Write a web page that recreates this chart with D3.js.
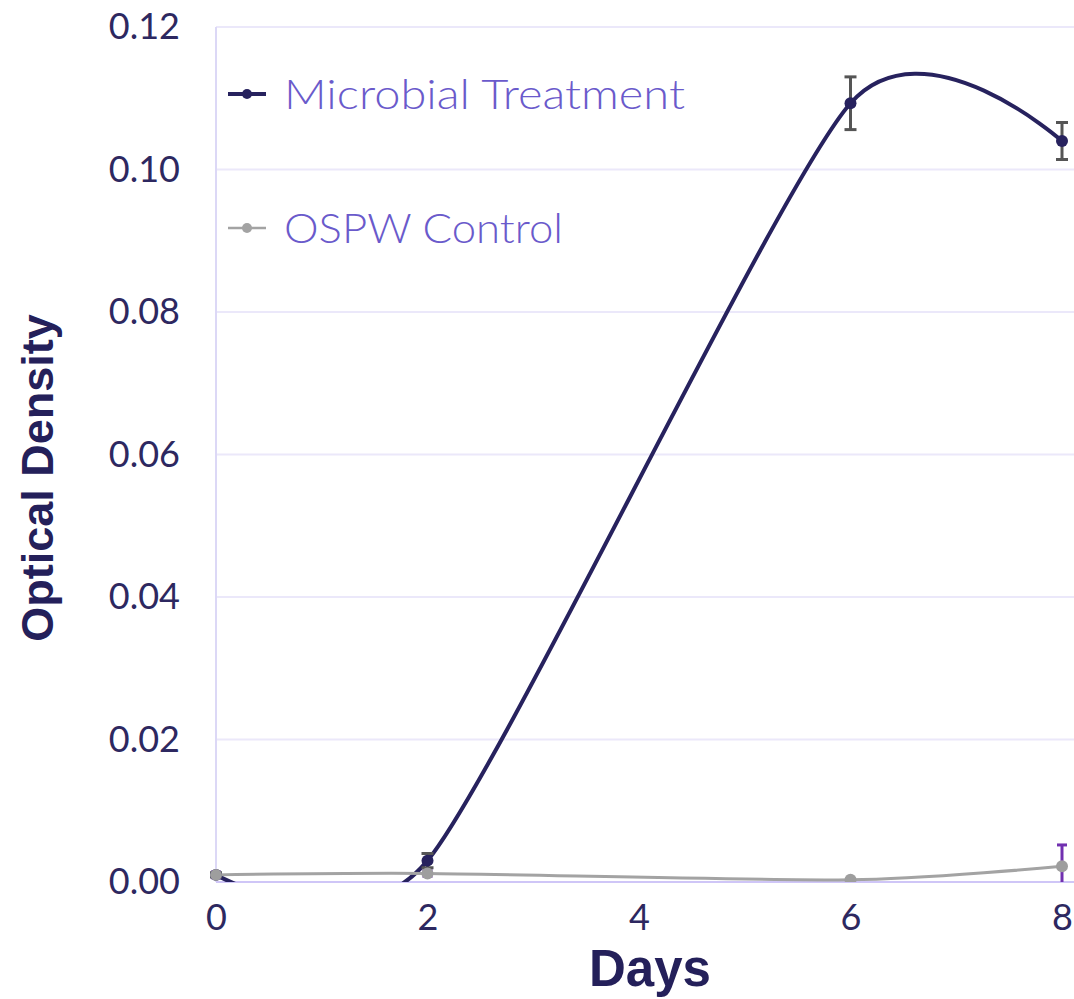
<!DOCTYPE html>
<html lang="en">
<head>
  <meta charset="UTF-8">
  <title>Optical Density</title>
  <script src="https://d3js.org/d3.v7.min.js"></script>
  <style>
    body { margin: 0; background: #fff; }
  </style>
</head>
<body>
  <svg width="1074" height="999"></svg>
<script>
  // data
  const days = [0, 2, 6, 8];
  const microbial = [0.001, 0.003, 0.1093, 0.104];
  const microbialErr = [0.0003, 0.001, 0.0037, 0.0026];
  const control = [0.001, 0.0012, 0.0003, 0.0022];
  const controlErr = [0.0004, 0.0004, 0, 0.003];
  const yTicks = [0, 0.02, 0.04, 0.06, 0.08, 0.10, 0.12];
  const xTicks = [0, 2, 4, 6, 8];
  const seriesNames = ["Microbial Treatment", "OSPW Control"];

  const svg = d3.select("svg");
  const margin = { left: 216, top: 27, right: 12, bottom: 117 };
  const width = +svg.attr("width");
  const height = +svg.attr("height");
  const innerWidth = width - margin.left - margin.right;
  const innerHeight = height - margin.top - margin.bottom;

  const g = svg.append("g")
    .attr("transform", `translate(${margin.left},${margin.top})`);

  const x = d3.scaleLinear().domain([0, 8]).range([0, innerWidth]);
  const y = d3.scaleLinear().domain([0, 0.12]).range([innerHeight, 0]);

  const textColor = "#2d2860";

  // grid
  g.append("g")
    .selectAll("line")
    .data(yTicks.filter(d => d > 0))
    .join("line")
    .attr("x1", 0).attr("x2", innerWidth + margin.right)
    .attr("y1", d => y(d)).attr("y2", d => y(d))
    .attr("stroke", "#ebe8fa")
    .attr("stroke-width", 2);

  // left axis line + bottom axis line
  g.append("line")
    .attr("x1", 0).attr("x2", 0)
    .attr("y1", 0).attr("y2", innerHeight)
    .attr("stroke", "#dcd8f6").attr("stroke-width", 2);
  g.append("line")
    .attr("x1", 0).attr("x2", innerWidth + margin.right)
    .attr("y1", innerHeight).attr("y2", innerHeight)
    .attr("stroke", "#cfc6f7").attr("stroke-width", 2);

  // y tick labels
  const yAxis = g.append("g")
    .call(d3.axisLeft(y).tickValues(yTicks).tickFormat(d3.format(".2f")).tickSize(0).tickPadding(36));
  yAxis.select(".domain").remove();
  yAxis.selectAll("text")
    .attr("fill", textColor)
    .attr("font-family", "Lato, 'Open Sans', sans-serif")
    .attr("font-size", 36);

  // x tick labels
  const xAxis = g.append("g")
    .attr("transform", `translate(0,${innerHeight})`)
    .call(d3.axisBottom(x).tickValues(xTicks).tickFormat(d3.format("d")).tickSize(0).tickPadding(22));
  xAxis.select(".domain").remove();
  xAxis.selectAll("text")
    .attr("fill", textColor)
    .attr("font-family", "Lato, 'Open Sans', sans-serif")
    .attr("font-size", 36);

  // axis titles
  svg.append("text")
    .attr("transform", "translate(53,478) rotate(-90)")
    .attr("text-anchor", "middle")
    .attr("fill", "#24205a")
    .attr("font-family", "'Liberation Sans', Arial, sans-serif")
    .attr("font-weight", "bold")
    .attr("font-size", 45)
    .text("Optical Density");

  svg.append("text")
    .attr("x", 650).attr("y", 986)
    .attr("text-anchor", "middle")
    .attr("fill", "#24205a")
    .attr("font-family", "'Liberation Sans', Arial, sans-serif")
    .attr("font-weight", "bold")
    .attr("font-size", 51)
    .text("Days");

  // clip to plot area
  svg.append("clipPath").attr("id", "plot")
    .append("rect")
    .attr("x", -10).attr("y", -10)
    .attr("width", innerWidth + 30).attr("height", innerHeight + 10);

  const plot = g.append("g").attr("clip-path", "url(#plot)");

  const line = d3.line()
    .x(d => x(d[0]))
    .y(d => y(d[1]))
    .curve(d3.curveCardinal.tension(0.3));

  const ctrlPts = days.map((d, i) => [d, control[i], controlErr[i]]);
  const micPts = days.map((d, i) => [d, microbial[i], microbialErr[i]]);

  plot.append("path")
    .datum(micPts)
    .attr("fill", "none")
    .attr("stroke", "#27225e")
    .attr("stroke-width", 4)
    .attr("d", line);

  plot.append("path")
    .datum(ctrlPts)
    .attr("fill", "none")
    .attr("stroke", "#a3a3a3")
    .attr("stroke-width", 3)
    .attr("d", line);

  function errorBars(sel, pts, color, cap) {
    const eb = sel.append("g")
      .selectAll("g")
      .data(pts.filter(d => d[2] > 0))
      .join("g")
      .attr("stroke", color)
      .attr("stroke-width", 3);
    eb.append("line")
      .attr("x1", d => x(d[0])).attr("x2", d => x(d[0]))
      .attr("y1", d => y(d[1] - d[2])).attr("y2", d => y(d[1] + d[2]));
    eb.append("line")
      .attr("x1", d => x(d[0]) - cap).attr("x2", d => x(d[0]) + cap)
      .attr("y1", d => y(d[1] + d[2])).attr("y2", d => y(d[1] + d[2]));
    eb.append("line")
      .attr("x1", d => x(d[0]) - cap).attr("x2", d => x(d[0]) + cap)
      .attr("y1", d => y(d[1] - d[2])).attr("y2", d => y(d[1] - d[2]));
  }

  errorBars(plot, micPts, "#555555", 6);
  errorBars(plot, ctrlPts, "#7130b0", 5);

  plot.append("g")
    .selectAll("circle")
    .data(micPts)
    .join("circle")
    .attr("cx", d => x(d[0])).attr("cy", d => y(d[1]))
    .attr("r", 6)
    .attr("fill", "#27225e");

  plot.append("g")
    .selectAll("circle")
    .data(ctrlPts)
    .join("circle")
    .attr("cx", d => x(d[0])).attr("cy", d => y(d[1]))
    .attr("r", 6)
    .attr("fill", "#9e9e9e");

  // legend
  const legendColors = ["#27225e", "#a3a3a3"];
  const legendWidths = [401, 279];
  const legend = svg.append("g")
    .selectAll("g")
    .data(seriesNames)
    .join("g")
    .attr("transform", (d, i) => `translate(228,${94 + i * 134})`);
  legend.append("line")
    .attr("x1", 0).attr("x2", 38)
    .attr("stroke", (d, i) => legendColors[i])
    .attr("stroke-width", (d, i) => i ? 2.5 : 4);
  legend.append("circle")
    .attr("cx", 19).attr("r", 5)
    .attr("fill", (d, i) => legendColors[i]);
  legend.append("text")
    .attr("x", 56).attr("y", 15)
    .attr("fill", "#6a5acb")
    .attr("font-family", "Lato, 'Open Sans', sans-serif")
    .attr("font-weight", 300)
    .attr("font-size", 42)
    .attr("textLength", (d, i) => legendWidths[i])
    .attr("lengthAdjust", "spacingAndGlyphs")
    .text(d => d);
</script>
</body>
</html>
